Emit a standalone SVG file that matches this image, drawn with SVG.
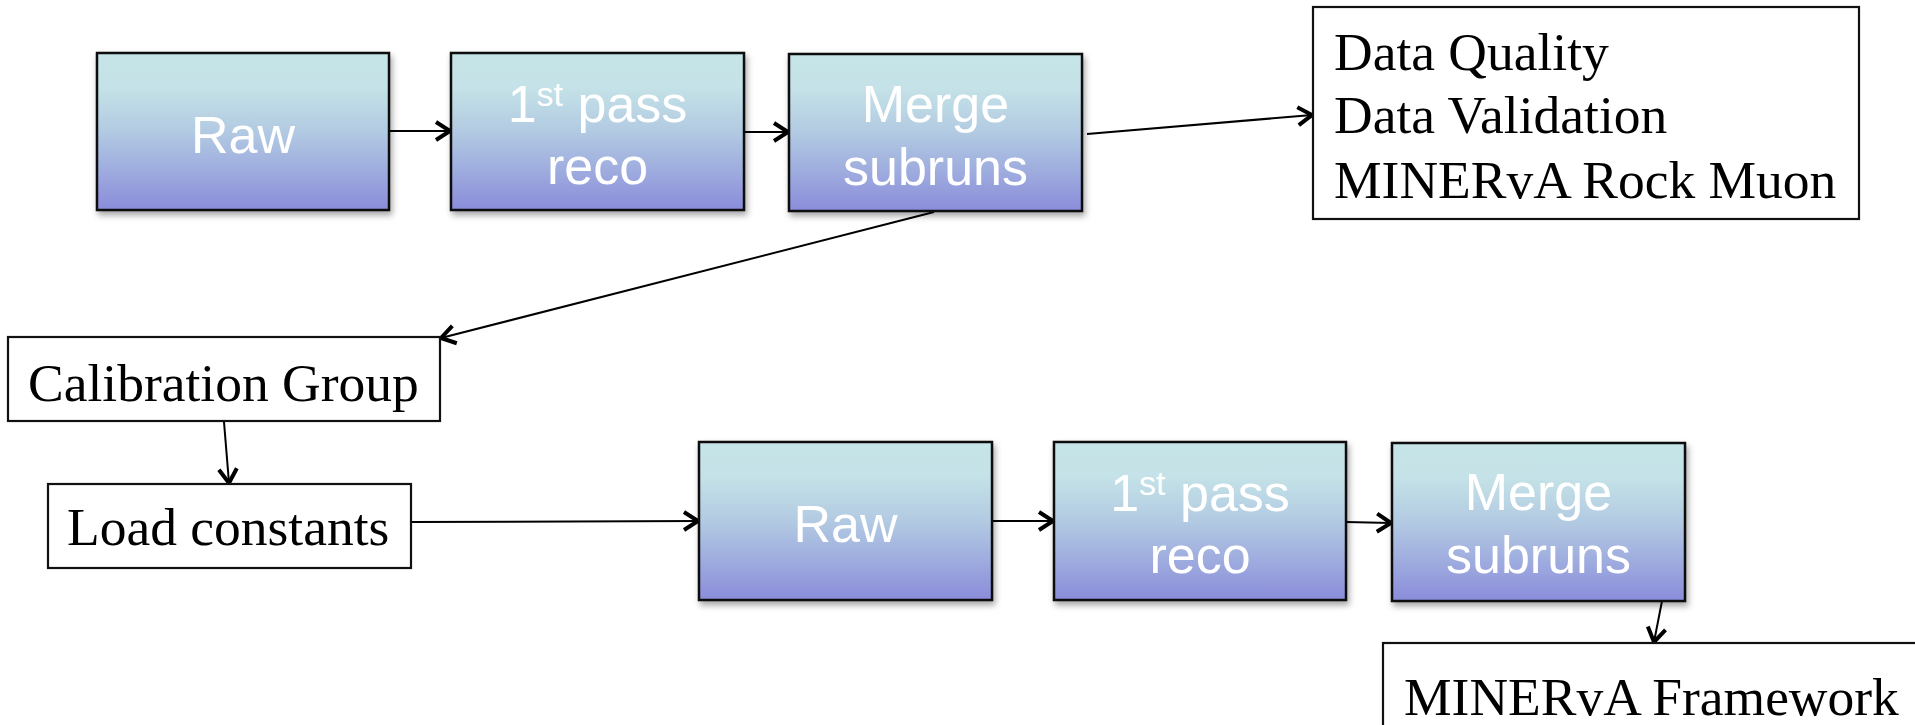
<svg xmlns="http://www.w3.org/2000/svg" width="1915" height="725" viewBox="0 0 1915 725">
  <style>
    .bbox { fill: url(#blueGrad); stroke: #111; stroke-width: 2.5; filter: url(#shadow); }
    .btxt { font-family: "Liberation Sans", Arial, sans-serif; font-size: 52px; fill: #ffffff; text-anchor: middle; }
    .wbox { fill: #ffffff; stroke: #111; stroke-width: 2.2; }
    .wtxt { font-family: "Liberation Serif", "Times New Roman", serif; font-size: 53.5px; fill: #000000; }
    .conn { fill: none; stroke: #000; stroke-width: 2; marker-end: url(#arrow); }
  </style>
  <defs>
    <linearGradient id="blueGrad" x1="0" y1="0" x2="0" y2="1">
      <stop offset="0" stop-color="#C6E5E8"/>
      <stop offset="0.22" stop-color="#C4E2E7"/>
      <stop offset="0.5" stop-color="#B2CAE2"/>
      <stop offset="0.78" stop-color="#9CA8DE"/>
      <stop offset="1" stop-color="#8A8CDA"/>
    </linearGradient>
    <filter id="shadow" x="-10%" y="-10%" width="125%" height="130%">
      <feDropShadow dx="2" dy="4" stdDeviation="3" flood-color="#000" flood-opacity="0.35"/>
    </filter>
    <marker id="arrow" markerUnits="userSpaceOnUse" markerWidth="24" markerHeight="24" refX="19" refY="12" orient="auto">
      <path d="M5,3 L19,12 L5,21" fill="none" stroke="#000" stroke-width="4" stroke-linejoin="miter"/>
    </marker>
  </defs>

  <g id="connectors">
    <line class="conn" x1="389" y1="131" x2="450" y2="131"/>
    <line class="conn" x1="744" y1="132" x2="788" y2="132"/>
    <line class="conn" x1="1087" y1="134" x2="1312" y2="115"/>
    <line class="conn" x1="934" y1="212" x2="441" y2="338"/>
    <line class="conn" x1="224" y1="422" x2="229" y2="483"/>
    <line class="conn" x1="411" y1="522" x2="698" y2="521"/>
    <line class="conn" x1="992" y1="521" x2="1053" y2="521"/>
    <line class="conn" x1="1346" y1="522" x2="1391" y2="523"/>
    <line class="conn" x1="1662" y1="601" x2="1654" y2="642"/>
  </g>

  <g id="raw1">
    <rect class="bbox" x="97" y="53" width="292" height="157"/>
    <text class="btxt" x="243" y="153">Raw</text>
  </g>
  <g id="pass1">
    <rect class="bbox" x="451" y="53" width="293" height="157"/>
    <text class="btxt" x="597.5" y="122">1<tspan font-size="34" dy="-16">st</tspan><tspan dy="16"> pass</tspan></text>
    <text class="btxt" x="597.5" y="184">reco</text>
  </g>
  <g id="merge1">
    <rect class="bbox" x="789" y="54" width="293" height="157"/>
    <text class="btxt" x="935.5" y="122">Merge</text>
    <text class="btxt" x="935.5" y="185">subruns</text>
  </g>

  <g id="dataquality">
    <rect class="wbox" x="1313" y="7" width="546" height="212"/>
    <text class="wtxt" x="1334" y="70">Data Quality</text>
    <text class="wtxt" x="1334" y="133">Data Validation</text>
    <text class="wtxt" x="1334" y="198">MINERvA Rock Muon</text>
  </g>

  <g id="calibration">
    <rect class="wbox" x="8" y="337" width="432" height="84"/>
    <text class="wtxt" x="28" y="401">Calibration Group</text>
  </g>

  <g id="loadconstants">
    <rect class="wbox" x="48" y="484" width="363" height="84"/>
    <text class="wtxt" x="67" y="545">Load constants</text>
  </g>

  <g id="raw2">
    <rect class="bbox" x="699" y="442" width="293" height="158"/>
    <text class="btxt" x="845.5" y="542">Raw</text>
  </g>
  <g id="pass2">
    <rect class="bbox" x="1054" y="442" width="292" height="158"/>
    <text class="btxt" x="1200" y="511">1<tspan font-size="34" dy="-16">st</tspan><tspan dy="16"> pass</tspan></text>
    <text class="btxt" x="1200" y="573">reco</text>
  </g>
  <g id="merge2">
    <rect class="bbox" x="1392" y="443" width="293" height="158"/>
    <text class="btxt" x="1538.5" y="510">Merge</text>
    <text class="btxt" x="1538.5" y="573">subruns</text>
  </g>

  <g id="framework">
    <rect class="wbox" x="1383" y="643" width="560" height="100"/>
    <text class="wtxt" x="1404" y="715">MINERvA Framework</text>
  </g>
</svg>
